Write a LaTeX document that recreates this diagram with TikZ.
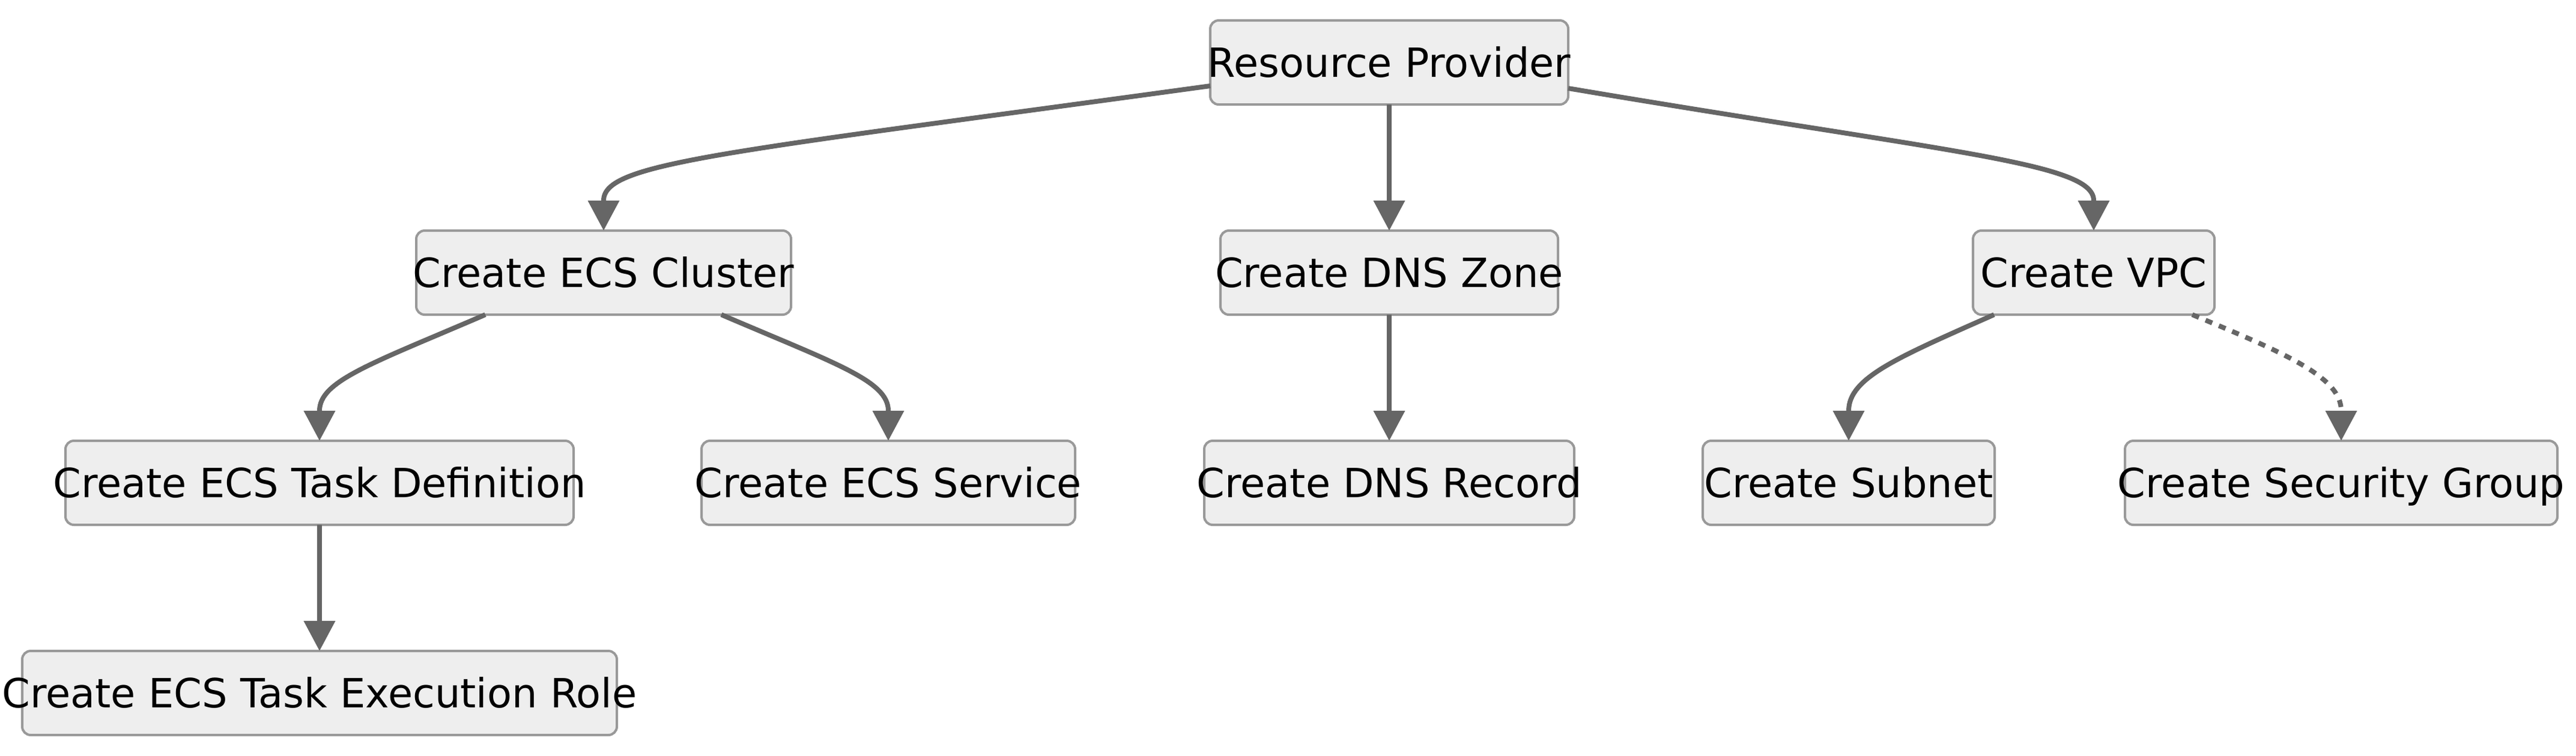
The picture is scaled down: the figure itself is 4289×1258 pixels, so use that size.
\documentclass[tikz,border=0pt]{standalone}
\usepackage{fontspec}
\setmainfont{DejaVu Sans}
\usetikzlibrary{arrows.meta,calc}
\definecolor{boxfill}{HTML}{EEEEEE}
\definecolor{boxline}{HTML}{999999}
\definecolor{edgecol}{HTML}{666666}
\newcommand\boxtext[1]{\makebox[0pt][c]{#1}}
\tikzset{
  box/.style={draw=boxline, fill=boxfill, line width=1pt, rounded corners=3.5pt,
    minimum height=35pt, inner sep=0pt, outer sep=0pt, text=black,
    text height=12.2pt, text depth=0pt,
    font=\fontsize{16.75}{20}\selectfont},
  edge/.style={draw=edgecol, line width=2pt, -{Triangle[length=12.5pt,width=12.7pt]}},
  dottededge/.style={edge, dash pattern=on 3pt off 3pt}
}
\begin{document}
\begin{tikzpicture}[x=0.25pt,y=-0.25pt]
\useasboundingbox (0,0) rectangle (4289,1258);
% nodes
\node[box, minimum width=149pt] (rp)  at (2313,104)  {\boxtext{Resource Provider}};
\node[box, minimum width=156pt] (cl)  at (1005,454)  {\boxtext{Create ECS Cluster}};
\node[box, minimum width=140.5pt] (dz) at (2313,454) {\boxtext{Create DNS Zone}};
\node[box, minimum width=100.5pt] (vpc) at (3486,454) {\boxtext{Create VPC}};
\node[box, minimum width=211.5pt] (td) at (532,804)  {\boxtext{Create ECS Task Definition}};
\node[box, minimum width=155.5pt] (sv) at (1479,804) {\boxtext{Create ECS Service}};
\node[box, minimum width=154pt] (dr)  at (2313,804)  {\boxtext{Create DNS Record}};
\node[box, minimum width=121.5pt] (sn) at (3078,804) {\boxtext{Create Subnet}};
\node[box, minimum width=180pt] (sg)  at (3898,804)  {\boxtext{Create Security Group}};
\node[box, minimum width=247.5pt] (er) at (532,1154) {\boxtext{Create ECS Task Execution Role}};
% edges
\draw[edge] ($(rp.west)+(0,39)$) .. controls (1200,255) and ($(cl.north)+(0,-113)$) .. ($(cl.north)+(0,-50)$) -- (cl.north);
\draw[edge] (rp.south) -- (dz.north);
\draw[edge] ($(rp.east)+(0,43)$) .. controls (3250,255) and ($(vpc.north)+(0,-113)$) .. ($(vpc.north)+(0,-50)$) -- (vpc.north);
\draw[edge] ($(cl.south)+(-197,0)$) .. controls (620,605) and ($(td.north)+(0,-100)$) .. ($(td.north)+(0,-50)$) -- (td.north);
\draw[edge] ($(cl.south)+(196,0)$) .. controls (1390,605) and ($(sv.north)+(0,-100)$) .. ($(sv.north)+(0,-50)$) -- (sv.north);
\draw[edge] (dz.south) -- (dr.north);
\draw[edge] ($(vpc.south)+(-166,0)$) .. controls (3160,595) and ($(sn.north)+(0,-105)$) .. ($(sn.north)+(0,-50)$) -- (sn.north);
\draw[dottededge] ($(vpc.south)+(164,0)$) .. controls (3810,590) and ($(sg.north)+(0,-105)$) .. ($(sg.north)+(0,-50)$) -- (sg.north);
\draw[edge] (td.south) -- (er.north);
\end{tikzpicture}
\end{document}
